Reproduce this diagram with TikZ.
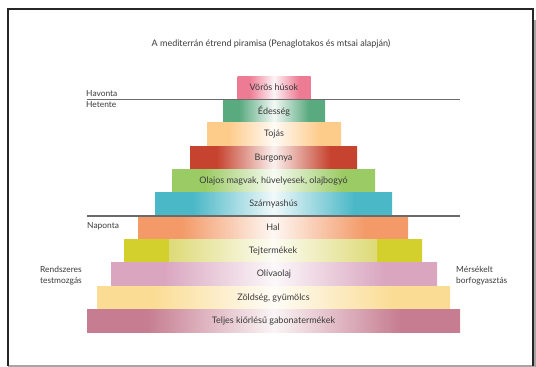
\documentclass[tikz,border=0pt]{standalone}
\usepackage{fontspec}
\setmainfont{Lato}
\definecolor{txt}{HTML}{3A3A3A}
\definecolor{rulec}{HTML}{6A6A6A}
\definecolor{c1}{HTML}{EE7B94}
\definecolor{c2}{HTML}{5AAA80}
\definecolor{c3}{HTML}{FDCB8A}
\definecolor{c4}{HTML}{C6432F}
\definecolor{c5}{HTML}{9BCB64}
\definecolor{c6}{HTML}{4BB8C7}
\definecolor{c7}{HTML}{F39A68}
\definecolor{c8}{HTML}{D3CF2D}
\definecolor{c8in}{HTML}{DEDB7A}
\definecolor{c9}{HTML}{D9A5BF}
\definecolor{c10}{HTML}{FADC94}
\definecolor{c11}{HTML}{C67D91}
\colorlet{barc}{white}
\pgfdeclarehorizontalshading[barc]{barshade}{100bp}{color(0bp)=(barc); color(25bp)=(barc); color(33bp)=(barc); color(50bp)=(barc!8); color(67bp)=(barc); color(75bp)=(barc); color(100bp)=(barc)}
\tikzset{
  bar/.style={/utils/exec={\colorlet{barc}{#1}}, shading=barshade, draw=none,
    minimum height=23.4pt, inner sep=0pt, text=txt, font=\fontsize{9}{10}\selectfont},
  lbl/.style={text=txt, inner sep=0pt, font=\fontsize{8.4}{11}\selectfont},
  divider/.style={draw=rulec, line width=1.5pt}
}
\begin{document}
\begin{tikzpicture}[x=1pt,y=-1pt]
\useasboundingbox (0,0) rectangle (536,367);
% frame
\fill[gray!70] (534,20) rectangle (536,367);
\draw[gray!70, line width=1.5pt] (8,366) -- (536,366);
\draw[black!85, line width=1.2pt] (8,366) -- (8,9) -- (533,9) -- (533,366);
% title
\node[lbl, font=\fontsize{9}{11}\selectfont, anchor=base] (title) at (271,46) {A mediterrán étrend piramisa (Penaglotakos és mtsai alapján)};
% bars
\node[bar=c1, minimum width=73pt] (b1) at (274,87.7) {Vörös húsok};
\node[bar=c2, minimum width=102pt] (b2) at (274,111.0) {Édesség};
\node[bar=c3, minimum width=134pt] (b3) at (274,134.3) {Tojás};
\node[bar=c4, minimum width=167pt] (b4) at (273.5,157.7) {Burgonya};
\node[bar=c5, minimum width=203pt] (b5) at (273.5,181.0) {Olajos magvak, hüvelyesek, olajbogyó};
\node[bar=c6, minimum width=237pt] (b6) at (273.5,204.3) {Szárnyashús};
\node[bar=c7, minimum width=270pt] (b7) at (273,227.7) {Hal};
\node[bar=c8, minimum width=298pt,
  path picture={\shade[shading=barshade, /utils/exec={\colorlet{barc}{c8in}}]
    ([xshift=-104pt,yshift=12pt]path picture bounding box.center) rectangle
    ([xshift=104pt,yshift=-10pt]path picture bounding box.center);}] (b8) at (273,251.0) {Tejtermékek};
\node[bar=c9, minimum width=326pt] (b9) at (274,274.3) {Olívaolaj};
\node[bar=c10, minimum width=353pt] (b10) at (273.5,297.7) {Zöldség, gyümölcs};
\node[bar=c11, minimum width=373pt] (b11) at (273.5,321.0) {Teljes kiőrlésű gabonatermékek};
% dividers
\coordinate (d1a) at (87,99.5);
\coordinate (d1b) at (460,99.5);
\coordinate (d2a) at (87,216);
\coordinate (d2b) at (460,216);
\draw[divider] (d1a) -- (d1b);
\draw[divider] (d2a) -- (d2b);
% side labels
\node[lbl, anchor=base west] (havonta) at (86,96.5) {Havonta};
\node[lbl, anchor=base west] (hetente) at (86,107.5) {Hetente};
\node[lbl, anchor=base west] (naponta) at (87,228) {Naponta};
\node[lbl, align=right, anchor=base east] (sport) at (82,283) {Rendszeres\\testmozgás};
\node[lbl, align=left, anchor=base west] (wine) at (456,283) {Mérsékelt\\borfogyasztás};
\end{tikzpicture}
\end{document}
